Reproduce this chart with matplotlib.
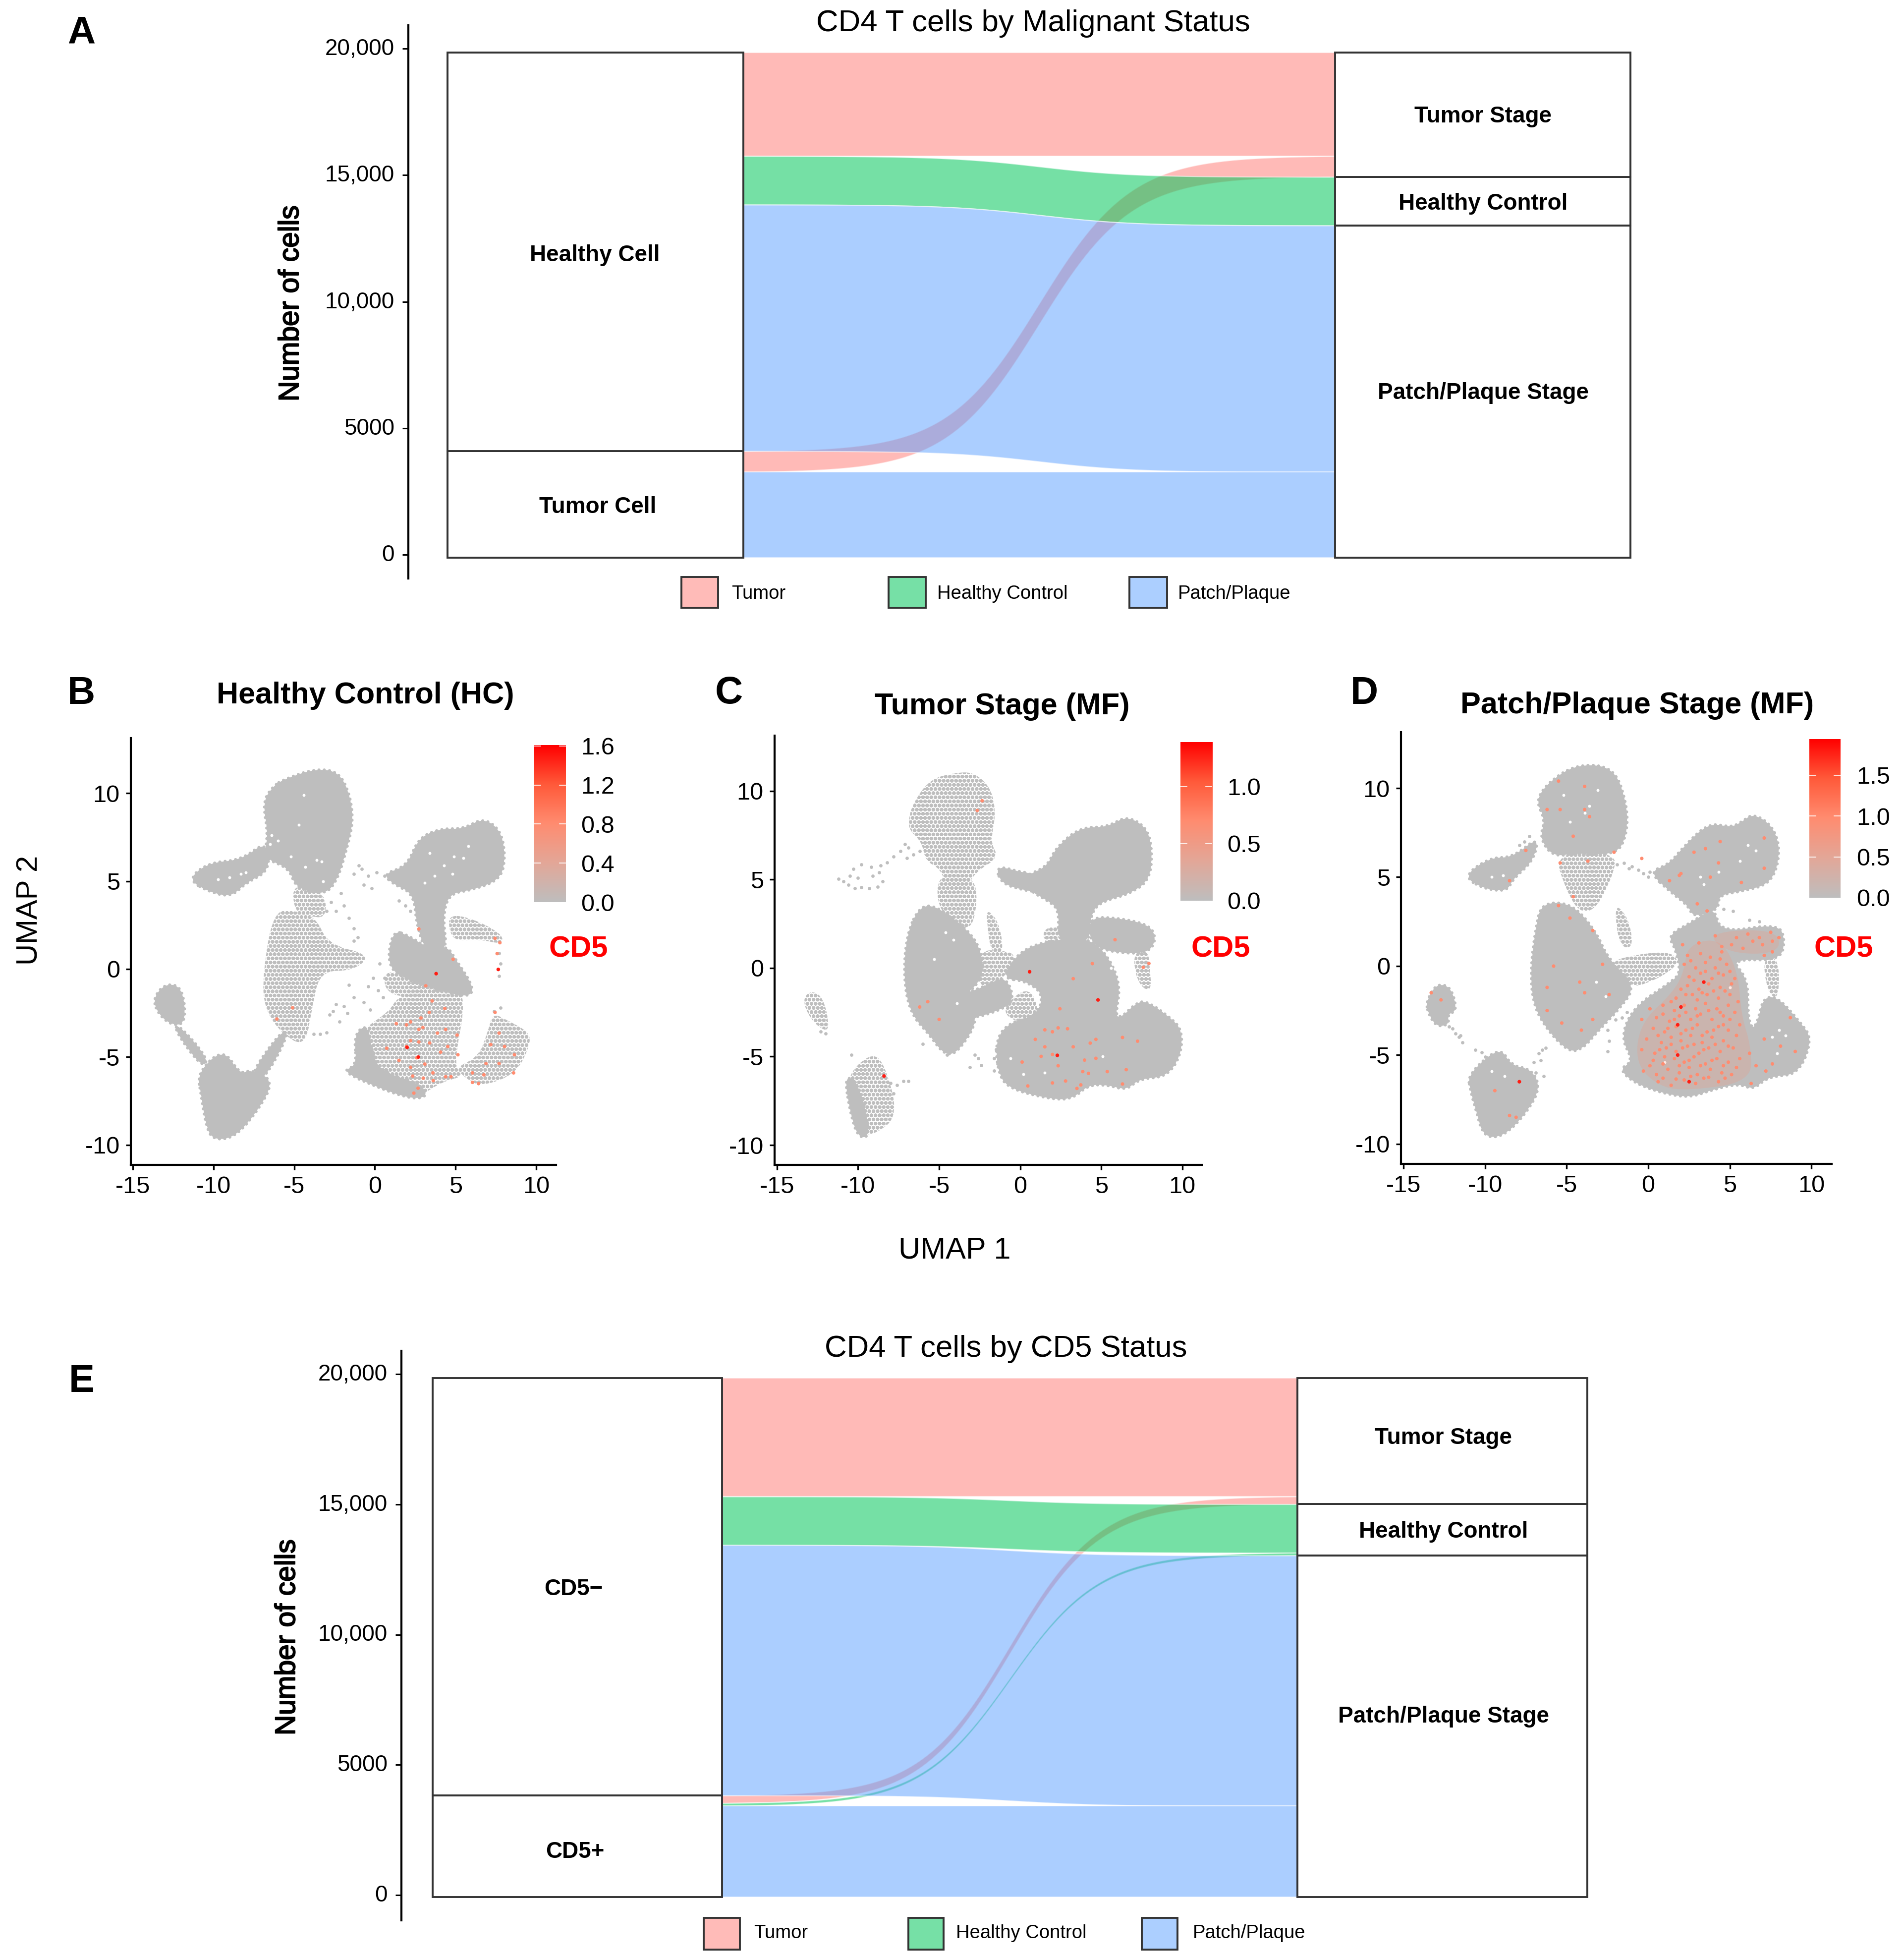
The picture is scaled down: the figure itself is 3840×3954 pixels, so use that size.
import numpy as np
import matplotlib
matplotlib.use('Agg')
import matplotlib.pyplot as plt
from matplotlib.colors import LinearSegmentedColormap, to_rgb
from matplotlib.patches import Rectangle, PathPatch
from matplotlib.path import Path
from matplotlib.transforms import ScaledTranslation
import matplotlib.patheffects as pe

plt.rcParams['font.family'] = ['Liberation Sans', 'DejaVu Sans']
plt.rcParams['hatch.linewidth'] = 2.8

W, H = 3840, 3954
GRAY = '#BEBEBE'
STAGE_COLORS = {'T': '#FF7770', 'H': '#00C65A', 'P': '#599FFF'}
STAGE_ALPHA = {'T': 0.5, 'H': 0.54, 'P': 0.5}
LEGEND_COLORS = ['#FFBBB8', '#76E0A6', '#ACCFFF']
cd5_cmap = LinearSegmentedColormap.from_list(
    'cd5', [GRAY, '#E3A798', '#FF8C70', '#FF5A3A', '#FF0000'])

# ---- alluvial data: number of cells per flow
# first letter of a key = stage (T, H, P), second = left stratum
a_values = {'T1': 4093, 'H1': 1920, 'P1': 9736, 'T2': 823, 'P2': 3379}
a_left = [['P2', 'T2'], ['P1', 'H1', 'T1']]
a_right = [['P2', 'P1'], ['H1'], ['T2', 'T1']]
a_base = -108

e_values = {'T1': 4548, 'H1': 1865, 'P1': 9610, 'T2': 295, 'H2': 105, 'P2': 3501}
e_left = [['P2', 'H2', 'T2'], ['P1', 'H1', 'T1']]
e_right = [['P2', 'P1'], ['H2', 'H1'], ['T2', 'T1']]
e_base = -76

count_ticks = [0, 5000, 10000, 15000, 20000]
count_labels = ['0', '5000', '10,000', '15,000', '20,000']
umap_ticks_x = [-15, -10, -5, 0, 5, 10]
umap_ticks_y = [-10, -5, 0, 5, 10]

# ---- UMAP panel B, Healthy Control
b_dense = [
    [(-5.6, 10.8), (-3.65, 11.4), (-2.2, 11.2), (-1.5, 9.8), (-1.35, 8.3), (-1.75, 6.8), (-2.3, 5.1),
     (-3.1, 4.2), (-4.9, 4.6), (-5.3, 5.75), (-6.9, 6.3), (-6.6, 7.65), (-6.95, 9.5), (-6.3, 10.4)],
    [(-11.6, 5.1), (-10.3, 6.05), (-8.25, 6.2), (-6.7, 7.3), (-6.5, 5.6), (-8, 4.9), (-8.9, 4.1), (-10.3, 4.4)],
    [(0.5, 5.4), (2, 5.85), (2.7, 7.45), (4.1, 8.0), (5.5, 7.95), (6.7, 8.6), (7.8, 7.9), (8.1, 6.4),
     (7.8, 5.1), (6.05, 4.5), (4.6, 4.3), (4.2, 2.95), (4.5, 1.0), (3.15, 1.0), (2.6, 2.5), (2.4, 4.3), (1.2, 4.8)],
    [(2.2, 1.85), (3.25, 1.2), (4.5, 1.3), (5.0, 0.55), (6.1, -0.95), (5.9, -1.6), (4.25, -1.3),
     (2.2, -0.7), (0.75, 0.1), (1.1, 2.25)],
    [(-11, -5.9), (-9.4, -4.5), (-8.35, -6.0), (-7.7, -5.7), (-6.2, -6.35), (-7.4, -8.25), (-8.75, -9.6),
     (-10.1, -9.7), (-10.5, -8.7), (-10.75, -7.2)],
    [(-12.2, -3.1), (-10.3, -5.1), (-10.7, -5.6), (-12.4, -3.5)],
    [(-7.8, -6.1), (-5.8, -3.5), (-5.3, -3.7), (-7.0, -6.5)],
    [(-13.7, -1.6), (-13, -0.85), (-12.1, -0.95), (-11.75, -2.0), (-11.85, -3.2), (-12.8, -3.1), (-13.55, -2.35)],
    [(-1.3, -3.7), (-0.4, -3.1), (-0.1, -5.1), (0.6, -5.9), (2.8, -6.5), (3.3, -7.2), (2.4, -7.4),
     (0.5, -6.85), (-2.1, -5.8), (-1.1, -5.5)],
]
b_sparse = [
    [(-6.3, 3.25), (-5.05, 3.35), (-3.65, 2.95), (-2.9, 1.4), (-0.2, 0.8), (-1.35, -0.1), (-3.4, -0.1),
     (-3.9, -2.25), (-4.3, -4.4), (-5.7, -3.75), (-6.85, -2.25), (-6.95, -0.3)],
    [(3, -1), (5.4, -1.15), (5.5, -2.5), (5.1, -4.4), (5, -5.6), (5.5, -6.1), (4.2, -6.4), (3, -7.1), (2.4, -7.25),
     (0.5, -6.7), (-1, -5.9), (-1.2, -4.1), (-0.7, -3.4), (0.9, -2.4), (1.4, -1.6)],
    [(5, -5.6), (6.4, -5), (7, -3.6), (7.3, -2.5), (8.2, -2.9), (9.6, -3.6), (9.6, -4.4), (8.7, -6), (6.5, -6.7), (5.5, -6.1)],
    [(4.6, 3.1), (6, 2.9), (7.9, 2), (7.9, 1.4), (6.5, 1.7), (5, 1.6), (4.6, 2.2)],
    [(-5.1, 4.9), (-3.1, 4.4), (-3, 2.9), (-4.1, 3), (-5, 3.3)],
    [(0.8, 0.1), (3, -1), (4.5, -1.2), (3, -1.5), (1.4, -1.6), (0.5, -1)],
]
b_loose = [(-0.4, -1), (-1.3, -1.6), (-2.4, -2), (-2.6, -2.4), (-2.8, -2.6), (-1.9, -2.1), (-1.7, -2.5), (-0.7, -1.9),
           (-0.3, -2.3), (0.2, -1.2), (0.5, -1.6), (-1.6, -0.9), (-3, -3.6), (-3.4, -3.7), (-3.8, -3.7), (-2.2, -3),
           (-1, 5.9), (-0.8, 5.7), (-0.4, 5.3), (0.1, 5.5), (0.6, 5.3), (-1.3, 5.4), (-0.7, 4.8), (-0.2, 4.6),
           (1.5, 3.9), (1.9, 3.6), (2.2, 3.3), (-2.1, 4.3), (-1.9, 3.6), (-1.6, 2.9), (-1.3, 2.3), (-1.3, 1.6),
           (-1.05, 1.8), (7.7, 0.9), (7.8, 0.3), (7.7, -0.4), (7.8, -2.2), (7.4, -2.4), (-2.4, 3.3), (-2.7, 3.8),
           (-3.0, 3.3), (0.6, -0.5), (-0.1, -0.5), (0.3, 0.3)]
b_holes = [(-6.4, 7.6), (-6.0, 7.3), (-6.5, 7.1), (-3.6, 6.2), (-3.3, 6.1), (-4.4, 9.9), (-9.7, 5.1), (-9.0, 5.2),
           (-8.3, 5.4), (-8.0, 5.5), (4.9, 6.4), (5.5, 6.3), (4.3, 5.9), (3.4, 6.6), (-1.0, 4.2), (-4.7, 8.2),
           (-5.2, 6.4), (-4.3, 5.8), (-3.2, 5.0), (3.7, 5.3), (4.8, 5.4), (5.8, 7.0), (3.1, 4.9)]
b_red = [(2.73, 2.28), (4.85, 0.56), (7.58, 0.88), (7.45, 1.75), (7.75, 1.5), (-6.07, -2.84), (-5.1, -2.2),
         (1.33, -3.1), (1.96, -3.17), (2.22, -3), (2.86, -2.78), (3.37, -2.46), (4.34, -2.24), (3.55, -1.81), (3.16, -0.95),
         (2.73, -3.43), (2.98, -3.32), (3.88, -3.64), (4.39, -3.43), (5.1, -3.75), (4.52, -4.4), (4.08, -4.72),
         (2.73, -4.14), (2.22, -4.07), (1.96, -4.4), (0.74, -4.5), (1.5, -5.19), (2.6, -5.04), (2.22, -5.58), (5.15, -4.87),
         (2.35, -6.08), (3.62, -6.34), (4.72, -6.12), (4.39, -6.12), (2.68, -6.77), (2.42, -7.05), (6.05, -5.9), (6.05, -6.44),
         (6.43, -6.51), (6.76, -6.01), (6.89, -5.37), (7.7, -5.37), (8.6, -5.9), (8.65, -4.87), (8.04, -4.4), (7.7, -3.64),
         (7.45, -2.46), (7.19, -4.29), (3.1, -5.4), (3.4, -4.2), (3.0, -6.2), (3.6, -5.9)]
b_red_hi = [(3.8, -0.26), (7.65, -0.02), (2.7, -5.0), (2.0, -4.45)]

# ---- UMAP panel C, Tumor Stage
c_dense = [
    [(0.27, 5.2), (1.64, 5.7), (2.2, 6.8), (3.7, 7.95), (5.4, 7.95), (6.55, 8.6), (7.8, 7.95), (8.15, 6.7), (8.0, 5.0),
     (6.8, 4.2), (4.8, 3.7), (4.3, 2.8), (4.3, 1.4), (2.25, 1.4), (2.45, 3.3), (1.55, 3.9), (0.6, 4.35)],
    [(-1.15, -0.6), (-0.1, 0.9), (1.65, 1.55), (4.2, 1.75), (5.5, 0.6), (6.2, -1.05), (5.85, -2.75), (6.3, -2.75), (7, -2.1),
     (7.7, -1.8), (9.2, -2.75), (10, -3.5), (9.9, -5), (9.0, -6.15), (7.35, -6.25), (6.55, -6.9), (5.4, -6.6), (4.2, -6.6),
     (3.3, -7.35), (2.1, -7.45), (-0.8, -6.8), (-1.4, -5.75), (-1.5, -4.05), (-0.7, -3.1), (1.05, -2.65), (1.45, -1.45), (0.3, -0.7)],
    [(4.2, 2.9), (6.3, 2.8), (8.05, 2.4), (8.4, 1.55), (7.8, 0.8), (5.6, 0.9), (4.35, 1.35)],
    [(-6.15, 3.55), (-5.05, 3.45), (-3.2, 2.15), (-2.35, 0.9), (-2.3, -0.6), (-3.55, -1.65), (-2.5, -2.85), (-3.9, -4.85),
     (-4.75, -4.85), (-5.6, -3.75), (-6.75, -2.6), (-7.2, -0.6), (-7.0, 1.95)],
    [(-3.7, -1.5), (-2.3, -1.1), (-0.9, -0.4), (-0.3, -1.9), (-1.6, -2.5), (-3.2, -2.9)],
    [(-1.5, 5.8), (0.1, 5.4), (0.6, 5.4), (1.1, 4.3), (0.2, 4.4), (-1.2, 4.8)],
    [(-10.85, -6.0), (-9.9, -6.6), (-9.2, -9.5), (-10, -9.6), (-10.5, -8.1)],
]
c_sparse = [
    [(-6.9, 8.3), (-6.65, 9.25), (-5.6, 10.65), (-4, 11.05), (-2.8, 11.05), (-1.75, 10.1), (-1.5, 8.6), (-1.85, 7.1),
     (-1.3, 6.25), (-2.8, 5.4), (-3.25, 4.55), (-4.55, 4.55), (-4.9, 5.6), (-5.85, 6.05), (-6.05, 7.1), (-6.8, 7.75)],
    [(-5.1, 5.4), (-2.9, 5.2), (-2.6, 3.8), (-3.1, 1.9), (-5.1, 3.2)],
    [(-2.1, 3.4), (-1.3, 2.6), (-1, 0.8), (-1.8, 0.9), (-2, 2.2)],
    [(-2.7, 1.0), (-1, 1), (-0.2, 0.7), (-1, -0.6), (-2.5, -1.4)],
    [(7, 0.9), (7.9, 1), (8, -0.1), (8.1, -1.2), (7.6, -1.2), (7.1, -0.4)],
    [(-10.75, -6.15), (-9.25, -4.8), (-8.4, -5.3), (-7.5, -8.3), (-8.9, -9.4), (-10.05, -9.4), (-10.4, -8.1)],
    [(-13.4, -1.8), (-13, -1.3), (-12.3, -1.5), (-11.9, -2.5), (-11.8, -3.6), (-12.5, -3.3), (-13.1, -2.6)],
    [(1.4, 2.2), (2.4, 2.4), (2.4, 1.5), (1.5, 1.4)],
    [(-1.2, -2.3), (0.6, -0.9), (1.3, -2.9), (-0.3, -3.1)],
]
c_loose = [(-11.2, 5.05), (-10.9, 4.9), (-10.6, 4.7), (-10.2, 4.5), (-9.8, 4.55), (-9.3, 4.5), (-8.8, 4.6), (-8.5, 4.9),
           (-8.7, 5.4), (-9.2, 5.7), (-9.8, 5.85), (-10.3, 5.6), (-10.5, 5.2), (-10, 5.1), (-9.1, 5.2), (-8.6, 5.8),
           (-8.2, 5.95), (-7.8, 6.3), (-7.4, 6.6), (-7.1, 7.0), (-6.9, 6.8), (-6.6, 6.4), (-7.0, 6.2), (-6.2, 6.6),
           (-10.4, -4.9), (-7.2, -6.4), (-6.9, -6.4), (-7.6, -6.6), (-7.8, -7.1), (-8, -6.5),
           (-6, -4.3), (-4.5, -4.9), (-3.1, -5.6), (-2.4, -5.5), (-2.6, -5.1), (-2.8, -4.9), (-1.6, -5.1), (-1.4, -5.4),
           (-1.6, -5.8), (-1.5, -4.6), (-12.0, -3.7), (-12.3, -3.6)]
c_holes = [(5.6, 0.0), (6.0, 0.3), (6.5, 0.2), (7.1, -1.0), (6.6, -1.5), (6.5, -0.6), (1.5, -5.9), (5.1, -5.0),
           (-4.6, 2.0), (-4.1, 1.6), (-5.3, 0.5), (-3.9, -2.0), (0.2, -6.0), (-0.6, -5.1)]
c_red = [(-2.35, 9.45), (-2.65, 8.9), (-5.7, -1.9), (-5, -2.9), (-6.2, -2.2), (2.45, -2.3), (5.85, 1.6), (4.45, 0.25),
         (1.52, -3.49), (1.99, -3.6), (2.34, -3.38), (2.92, -3.43), (0.93, -4.03), (1.52, -4.45), (1.99, -4.88),
         (3.27, -4.45), (4.32, -4.24), (4.67, -4.03), (0.12, -5.31), (1.29, -4.99), (2.34, -5.52), (3.97, -5.2),
         (4.67, -5.1), (3.86, -5.85), (4.21, -5.95), (3.74, -6.6), (3.5, -6.8), (1.99, -6.49), (2.8, -6.38), (0.47, -6.66),
         (6.31, -6.55), (6.54, -5.74), (7.24, -4.13), (6.31, -3.92), (5.37, -5.85), (3.27, -0.6), (7.59, 0.04), (7.94, 0.26)]
c_red_hi = [(-8.4, -6.1), (4.8, -1.8), (2.29, -4.93), (0.58, -0.21)]

# ---- UMAP panel D, Patch/Plaque Stage
d_dense = [
    [(-6.9, 9.3), (-6.1, 10.35), (-4.4, 11.35), (-2.1, 11.2), (-1.3, 9.1), (-1.3, 7.4), (-1.95, 6.25), (-4.4, 6.35),
     (-5.85, 6.15), (-6.65, 7.2), (-6.3, 8.25)],
    [(-11.35, 5.05), (-9.7, 6.1), (-8.3, 6.1), (-6.7, 7.3), (-7.05, 5.9), (-8.3, 4.9), (-8.65, 4.2), (-10.1, 4.35)],
    [(-6.55, 3.55), (-4.75, 3.55), (-3.25, 2.05), (-2.45, 0.35), (-0.7, -1.1), (-1.95, -2.6), (-2.9, -3.45), (-4.05, -4.7),
     (-4.95, -4.8), (-6.4, -3.35), (-7.1, -1.95), (-7.2, -0.05), (-6.9, 2.1)],
    [(0.05, 5.3), (1.25, 5.7), (2.2, 6.75), (3.7, 8.05), (5.05, 7.8), (5.65, 8.05), (6.45, 8.6), (7.7, 7.8), (8.1, 6.35),
     (7.55, 4.65), (5.75, 4.2), (4.3, 4.0), (4.3, 3.15), (2.75, 2.75), (2.45, 3.4), (1.3, 4.2)],
    [(1.2, 1.75), (2.75, 2.5), (4.05, 3.35), (4.4, 1.85), (7.95, 2.4), (8.4, 1.45), (8.05, 0.3), (5.0, 0.4), (6.1, -0.7),
     (6.1, -2.8), (6.35, -3.55), (6.7, -3.15), (7.05, -1.75), (7.95, -1.75), (9.3, -3.15), (10.05, -4.1), (9.2, -6.1), (7.35, -6.2),
     (6.45, -6.95), (5.55, -6.6), (3.9, -6.95), (2.55, -7.4), (0.9, -7.15), (-0.8, -6.6), (-1.8, -5.8), (-0.9, -5.35),
     (-1.7, -4), (-0.9, -2.3), (1.4, -0.9), (2.0, -0.35), (1.65, 1)],
    [(-11.05, -6.1), (-9.1, -4.5), (-8.4, -5.6), (-7.15, -5.8), (-6.6, -6.85), (-7.5, -8.3), (-8.9, -9.6), (-10.1, -9.6),
     (-10.55, -8.1), (-10.9, -7)],
    [(-13.6, -2), (-13, -1.0), (-12.1, -1.15), (-11.7, -2.5), (-12.3, -2.7), (-12.2, -3.3), (-13, -3.4), (-13.5, -2.6)],
]
d_sparse = [
    [(-5.8, 6.4), (-1.9, 6.4), (-2.2, 5), (-3.2, 3.2), (-4.2, 3), (-5, 4.2)],
    [(7, 0.5), (8, 0.5), (8, -1.9), (7.3, -1.5)],
    [(-2.6, 0.2), (-0.5, 0.7), (1.4, 0.8), (1.9, 0.2), (1, -0.5), (-0.2, -1), (-1, -1.2)],
    [(-2.1, 3.6), (-1.2, 2.7), (-0.9, 1), (-1.8, 1.1)],
    [(2.8, 4.2), (4.2, 4.2), (4.2, 3), (2.8, 2.9)],
]
d_wash = [
    [(-0.5, -3.2), (1.5, -1.5), (2.2, -0.3), (2.4, 1.2), (4.4, 1.6), (5.5, -0.3), (5.7, -2.8), (6.3, -4.5), (6.3, -6.5),
     (2.5, -7), (0.7, -6.8), (-0.8, -5.5)],
    [(3.5, 1.9), (7.9, 2.1), (8.1, 0.7), (4.9, 0.7)],
]
d_loose = [(-1.9, 5.7), (-1.5, 5.8), (-1, 5.6), (-0.6, 5.4), (-0.3, 5.2), (0, 5), (0.1, 5.3), (-1.2, 5.5),
           (-7, -5.4), (-6.6, -5.3), (-6.5, -4.7), (-6.3, -4.6), (-6.7, -4.9), (-6.9, -6), (-6.4, -6.2), (-10.6, -4.7),
           (-10.2, -4.85), (-10, -5.1), (-12, -3.5), (-11.8, -3.8), (-11.6, -4), (-11.4, -4.3), (-11.5, -3.9), (-12.2, -3.4),
           (-7.3, 7.3), (-7.6, 7.0), (-7.9, 6.8), (-2.5, -3.6), (-2.4, -4.2), (-2.5, -4.8), (-2.0, -3.0), (-1.6, -2.9),
           (6.2, 2.6), (6.8, 2.5), (5.2, 3.1), (4.6, 3.2), (-1, -3), (-1.3, -2.6)]
d_holes = [(-3.9, 8.6), (-3.6, 9.0), (-5.2, 9.6), (5.6, 5.9), (6.1, 6.8), (6.6, 6.5), (3.4, 4.6), (-8.9, 5.1),
           (-9.6, 5.0), (-3.2, -0.9), (1.0, -5.4), (7.6, -4.0), (8.0, -3.6), (-9.6, -5.9), (-8.8, -6.2), (5.0, -1.2),
           (-2.6, -1.7), (-3.1, 9.9), (-4.8, 8.1), (4.3, 5.3), (3.2, 5.0), (7.9, -4.9), (8.4, -3.9)]
d_red = [(0.6, -6.5), (1.4, -6.7), (2.2, -6.4), (2.9, -6.6), (3.4, -6.3), (4.3, -6.5), (5.1, -6.1), (6.3, -6.6),
         (-0.3, -5.9), (0.5, -6.1), (1.2, -5.8), (1.9, -6.0), (2.5, -5.7), (3.0, -6.1), (3.8, -5.8), (4.5, -6.0), (5.4, -5.7),
         (6.6, -5.6), (7.2, -5.9), (0.3, -5.3), (0.9, -5.5), (1.6, -5.2), (2.2, -5.4), (2.8, -5.1), (3.5, -5.5), (4.2, -5.2),
         (4.9, -5.4), (5.6, -5.2), (7.6, -5.5), (9.0, -4.8), (-0.4, -4.7), (0.4, -4.9), (1.1, -4.6), (1.7, -4.8), (2.4, -4.5),
         (3.1, -4.9), (3.7, -4.6), (4.4, -4.8), (5.2, -4.6), (6.2, -4.9), (8.1, -4.5), (-0.1, -4.1), (0.8, -4.3), (1.4, -4.0),
         (2.0, -4.2), (2.6, -3.9), (3.3, -4.3), (3.9, -4.0), (4.6, -4.2), (5.4, -3.9), (7.1, -4.1), (0.3, -3.5), (1.0, -3.7),
         (1.7, -3.4), (2.3, -3.6), (3.0, -3.3), (3.6, -3.7), (4.3, -3.4), (4.9, -3.6), (5.6, -3.3), (-0.4, -3.0), (0.5, -2.9),
         (1.3, -3.1), (1.9, -2.8), (2.6, -3.0), (3.2, -2.7), (3.9, -3.0), (4.6, -2.8), (5.3, -2.6), (8.7, -2.9), (0.1, -2.4),
         (0.9, -2.2), (1.6, -2.5), (2.2, -2.2), (2.9, -2.4), (3.5, -2.1), (4.2, -2.4), (4.9, -2.2), (5.5, -2.0), (1.7, -1.8),
         (2.3, -1.6), (3.0, -1.9), (3.6, -1.6), (4.3, -1.8), (5.0, -1.6), (2.4, -1.1), (3.1, -1.3), (3.7, -1.0), (4.4, -1.2),
         (5.1, -1.0), (2.5, -0.6), (3.2, -0.4), (3.9, -0.7), (4.6, -0.5), (5.3, -0.7), (2.2, 0.1), (2.9, -0.1), (3.5, 0.2),
         (4.1, -0.1), (4.8, 0.1), (2.4, 0.6), (3.2, 0.7), (3.8, 0.5), (4.5, 0.8), (7.1, 0.6), (7.6, 0.8), (2.1, 1.2), (3.1, 1.3),
         (4.5, 1.1), (5.1, 1.2), (5.8, 1.0), (6.4, 1.4), (7.0, 1.2), (7.6, 1.4), (4.1, 1.7), (5.4, 1.6), (6.1, 1.8), (6.8, 1.6),
         (7.5, 1.9), (8.0, 1.6), (-5.5, 10.4), (-3.9, 10.1), (-6.2, 8.8), (-5.4, 8.8), (-3.9, 8.8), (-3.6, 8.4), (-4.6, 7.3),
         (-2.1, 6.4), (-5.4, 5.8), (-3.7, 5.9), (-0.4, 6.05), (-7.5, 6.5), (-8.5, 4.8), (-4.6, 3.9), (-5.5, 3.4), (-4.8, 2.7),
         (-3.4, 2), (-5.8, 0), (-2.8, 0.1), (-6.2, -1.2), (-4.2, -0.9), (-3.9, -1.5), (-2.4, -1.6), (-6.2, -2.5), (-5.3, -3.2),
         (-3.4, -3), (-4.1, -3.6), (-13.3, -1.5), (-12.7, -1.9), (-9.4, -7), (-8.5, -8.4), (-8.1, -8.5), (3.8, 5), (1.9, 5.1),
         (2.0, 5.2), (1.3, 4.8), (4.3, 5.8), (3.5, 6.6), (2.8, 6.4), (4.4, 7), (7.1, 7.2), (7.1, 5.5), (5.7, 4.7), (3, 3.5), (3.6, 3.1),
         # second pass over the busy lower cluster
         (0.9, -6.3), (1.7, -6.35), (2.6, -6.2), (3.7, -6.25), (4.7, -6.3), (0.1, -5.6), (1.0, -5.1), (1.9, -5.6), (2.5, -5.3),
         (3.2, -5.6), (3.9, -5.3), (4.6, -5.6), (0.7, -4.7), (1.4, -4.4), (2.1, -4.6), (2.8, -4.4), (3.4, -4.7), (4.1, -4.4),
         (4.9, -4.5), (0.6, -3.9), (1.2, -3.5), (2.0, -3.8), (2.7, -3.5), (3.3, -3.9), (4.0, -3.6), (4.6, -3.3), (0.9, -2.7),
         (1.6, -3.0), (2.3, -2.6), (3.0, -2.8), (3.7, -2.5), (4.4, -2.6), (5.0, -3.0), (1.4, -2.0), (2.0, -1.3), (2.7, -1.6),
         (3.3, -1.5), (4.0, -1.4), (4.7, -1.4), (2.8, -0.8), (3.5, -0.3), (4.3, -0.4), (5.0, -0.3), (2.6, 0.3), (4.4, 0.4)]
d_red_hi = [(-7.9, -6.5), (2.5, -6.5), (1.8, -5.0), (1.8, -3.3), (3.4, -0.9), (2.0, -2.3)]


def px_axes(x0, y0, x1, y1):
    return fig.add_axes([x0 / W, 1 - y1 / H, (x1 - x0) / W, (y1 - y0) / H])


def put(x, y, s, **kw):
    # the reference text sits a little lower than mpl's bbox centre
    if kw.get('rotation') == 90:
        x += 4
    else:
        y += 5
    kw.setdefault('ha', 'center')
    kw.setdefault('va', 'center')
    page.text(x, y, s, **kw)


def flow_curve(t):
    # s shape of the ribbons, steep in the middle and flat for the outer quarters
    s = 1 / (1 + np.exp(-(t - 0.5) / 0.078))
    return (s - s[0]) / (s[-1] - s[0])


def blob_path(poly):
    # typed points are the control points of a closed quadratic curve
    pts = np.array(poly, dtype=float)
    nxt = np.roll(pts, -1, axis=0)
    mids = (pts + nxt) / 2
    verts = [mids[-1]]
    codes = [Path.MOVETO]
    for p, m in zip(pts, mids):
        verts += [p, m]
        codes += [Path.CURVE3, Path.CURVE3]
    return Path(verts, codes)


def stack_edges(groups, values, base):
    edges = {}
    bounds = [base]
    y = base
    for group in groups:
        for name in group:
            edges[name] = (y, y + values[name])
            y += values[name]
        bounds.append(y)
    return edges, bounds


def draw_alluvial(ax, values, left, right, base, half_w):
    left_edges, left_bounds = stack_edges(left, values, base)
    right_edges, right_bounds = stack_edges(right, values, base)
    xs = np.linspace(1 + half_w, 2 - half_w, 300)
    t = (xs - xs[0]) / (xs[-1] - xs[0])
    s = flow_curve(t)
    # tumor first, then healthy, patch on top
    for stage in 'THP':
        for name in values:
            if name[0] != stage:
                continue
            low = left_edges[name][0] + (right_edges[name][0] - left_edges[name][0]) * s
            high = left_edges[name][1] + (right_edges[name][1] - left_edges[name][1]) * s
            ax.fill_between(xs, low, high, facecolor=to_rgb(STAGE_COLORS[stage]) + (STAGE_ALPHA[stage],),
                            edgecolor=(1, 1, 1, 0.55), linewidth=1.6)
    for x, bounds in ((1, left_bounds), (2, right_bounds)):
        for y0, y1 in zip(bounds[:-1], bounds[1:]):
            ax.add_patch(Rectangle((x - half_w, y0), 2 * half_w, y1 - y0, facecolor='white',
                                   edgecolor='#333333', linewidth=2.8, zorder=3))


def style_count_axis(ax):
    for side in ('top', 'right', 'bottom'):
        ax.spines[side].set_visible(False)
    ax.spines['left'].set_linewidth(3)
    ax.set_xticks([])
    ax.set_yticks(count_ticks)
    ax.set_yticklabels(count_labels, fontsize=33)
    ax.tick_params(axis='y', length=9, width=2.2, pad=11)
    up = ScaledTranslation(0, 4 / 100, fig.dpi_scale_trans)
    for lab in ax.get_yticklabels():
        lab.set_transform(lab.get_transform() + up)
    ax.patch.set_alpha(0)


def draw_umap(ax, dense, sparse, loose, holes, red, red_hi, vmax, wash=()):
    for poly in sparse:
        ax.add_patch(PathPatch(blob_path(poly), facecolor='none', edgecolor=GRAY, hatch='oo',
                               linewidth=0, zorder=1))
    for poly in dense:
        # bumpy edge like the single cells on the rim
        ax.add_patch(PathPatch(blob_path(poly), facecolor=GRAY, edgecolor=GRAY, linewidth=4.5, zorder=2,
                               linestyle=(0, (0.01, 1.7)), capstyle='round'))
    x, y = zip(*holes)
    ax.scatter(x, y, s=18, color='white', linewidths=0, zorder=3)
    x, y = zip(*loose)
    ax.scatter(x, y, s=24, color=GRAY, linewidths=0, zorder=4)
    for poly in wash:
        ax.add_patch(PathPatch(blob_path(poly), facecolor='#FF8C70', alpha=0.2, linewidth=0, zorder=4))
    x, y = zip(*red)
    ax.scatter(x, y, s=26, c=[0.5 * vmax] * len(x), cmap=cd5_cmap, vmin=0, vmax=vmax, linewidths=0, zorder=5)
    x, y = zip(*red_hi)
    ax.scatter(x, y, s=28, c=[0.92 * vmax] * len(x), cmap=cd5_cmap, vmin=0, vmax=vmax, linewidths=0, zorder=6)
    for side in ('top', 'right'):
        ax.spines[side].set_visible(False)
    for side in ('left', 'bottom'):
        ax.spines[side].set_linewidth(3)
    ax.set_xticks(umap_ticks_x)
    ax.set_xticklabels([str(v) for v in umap_ticks_x], fontsize=35)
    ax.set_yticks(umap_ticks_y)
    ax.set_yticklabels([str(v) for v in umap_ticks_y], fontsize=35)
    ax.tick_params(length=7, width=2.4, pad=9)


def draw_colorbar(x0, y0, x1, y1, vmax, ticks, labels, label_x):
    cax = px_axes(x0, y0, x1, y1)
    grad = np.linspace(1, 0, 256).reshape(-1, 1)
    cax.imshow(grad, cmap=cd5_cmap, aspect='auto', extent=(0, 1, 0, vmax), vmin=0, vmax=1)
    for v in ticks:
        if 0 < v < vmax:
            cax.plot([0, 0.2], [v, v], color='white', linewidth=1.2)
            cax.plot([0.8, 1], [v, v], color='white', linewidth=1.2)
    cax.set_xlim(0, 1)
    cax.set_ylim(0, vmax)
    cax.axis('off')
    for v, lab in zip(ticks, labels):
        put(label_x, y1 - (y1 - y0) * v / vmax, lab, fontsize=35, ha='left')


fig = plt.figure(figsize=(W / 100, H / 100), dpi=100, facecolor='white')

# full page axes in pixels, for letters, legends and free labels
page = fig.add_axes([0, 0, 1, 1], zorder=10)
page.set_xlim(0, W)
page.set_ylim(H, 0)
page.axis('off')
page.patch.set_alpha(0)

# panel A
ax_a = px_axes(824, 51, 3300, 1167)
ax_a.set_xlim(1 - (1201.5 - 824) / 1790.5, 2 + (3300 - 2992) / 1790.5)
ax_a.set_ylim((1119 - 1167) / 255.25 * 5000, (1119 - 51) / 255.25 * 5000)
draw_alluvial(ax_a, a_values, a_left, a_right, a_base, 1 / 6)
style_count_axis(ax_a)

# panel E
ax_e = px_axes(810, 2725, 3210, 3874)
ax_e.set_xlim(1 - (1165 - 810) / 1745.5, 2 + (3210 - 2910.5) / 1745.5)
ax_e.set_ylim((3823 - 3874) / 262.75 * 5000, (3823 - 2725) / 262.75 * 5000)
draw_alluvial(ax_e, e_values, e_left, e_right, e_base, 0.1673)
style_count_axis(ax_e)

# panels B, C, D
ax_b = px_axes(264, 1489, 1122, 2350)
ax_b.set_xlim(-15.12, 11.23)
ax_b.set_ylim(-11.13, 13.13)
draw_umap(ax_b, b_dense, b_sparse, b_loose, b_holes, b_red, b_red_hi, 1.61)

ax_c = px_axes(1563, 1484, 2425, 2350)
ax_c.set_xlim(-15.15, 11.2)
ax_c.set_ylim(-11.12, 13.13)
draw_umap(ax_c, c_dense, c_sparse, c_loose, c_holes, c_red, c_red_hi, 1.39)

ax_d = px_axes(2827, 1477, 3696, 2348)
ax_d.set_xlim(-15.15, 11.23)
ax_d.set_ylim(-11.12, 13.15)
draw_umap(ax_d, d_dense, d_sparse, d_loose, d_holes, d_red, d_red_hi, 1.94, wash=d_wash)

draw_colorbar(1078, 1503, 1142, 1820, 1.61, [0, 0.4, 0.8, 1.2, 1.6], ['0.0', '0.4', '0.8', '1.2', '1.6'], 1172)
draw_colorbar(2382, 1497, 2446, 1817, 1.39, [0, 0.5, 1.0], ['0.0', '0.5', '1.0'], 2476)
draw_colorbar(3651, 1491, 3714, 1811, 1.94, [0, 0.5, 1.0, 1.5], ['0.0', '0.5', '1.0', '1.5'], 3746)

for x, lab in ((1167, 'CD5'), (2463, 'CD5'), (3720, 'CD5')):
    put(x, 1910, lab, color='#FF0000', fontsize=43, fontweight='bold')

# panel letters
for x, y, lab in ((164, 62, 'A'), (164, 1395, 'B'), (1471, 1394, 'C'), (2753, 1394, 'D'), (165, 2782, 'E')):
    put(x, y, lab, fontsize=56, fontweight='bold')

# titles
put(2085, 43, 'CD4 T cells by Malignant Status', fontsize=44.5)
put(2030, 2717, 'CD4 T cells by CD5 Status', fontsize=44.5)
put(737, 1399, 'Healthy Control (HC)', fontsize=44, fontweight='bold')
put(2022, 1420, 'Tumor Stage (MF)', fontsize=44, fontweight='bold')
put(3304, 1419, 'Patch/Plaque Stage (MF)', fontsize=44, fontweight='bold')

# axis labels
stroke = [pe.withStroke(linewidth=1.5, foreground='black')]
put(583, 612, 'Number of cells', fontsize=41, rotation=90, path_effects=stroke)
put(576, 3303, 'Number of cells', fontsize=41, rotation=90, path_effects=stroke)
put(56, 1836, 'UMAP 2', fontsize=43, rotation=90)
put(1926, 2518, 'UMAP 1', fontsize=44)

# stratum labels
strata_labels = [
    (1200, 510, 'Healthy Cell'), (1206, 1018, 'Tumor Cell'), (2993, 230, 'Tumor Stage'),
    (2993, 406, 'Healthy Control'), (2993, 788, 'Patch/Plaque Stage'), (1157, 3201, 'CD5\u2212'),
    (1160, 3731, 'CD5+'), (2913, 2896, 'Tumor Stage'), (2913, 3085, 'Healthy Control'),
    (2913, 3458, 'Patch/Plaque Stage'),
]
for x, y, lab in strata_labels:
    put(x, y, lab, fontsize=33, fontweight='bold', zorder=5)

# legends
legend_names = ['Tumor', 'Healthy Control', 'Patch/Plaque']
legend_a = [(1375, 1449, 1476), (1793, 1868, 1891), (2279, 2355, 2377)]
legend_e = [(1420, 1493, 1521), (1833, 1904, 1929), (2304, 2376, 2407)]
for boxes, y0, y1, ty in ((legend_a, 1164, 1226, 1193), (legend_e, 3869, 3933, 3895)):
    for (x0, x1, tx), name, col in zip(boxes, legend_names, LEGEND_COLORS):
        page.add_patch(Rectangle((x0, y0), x1 - x0, y1 - y0, facecolor=col, edgecolor='#333333', linewidth=2.8))
        put(tx, ty, name, fontsize=27.5, ha='left')

fig.savefig('out.png', dpi=100, facecolor='white')
